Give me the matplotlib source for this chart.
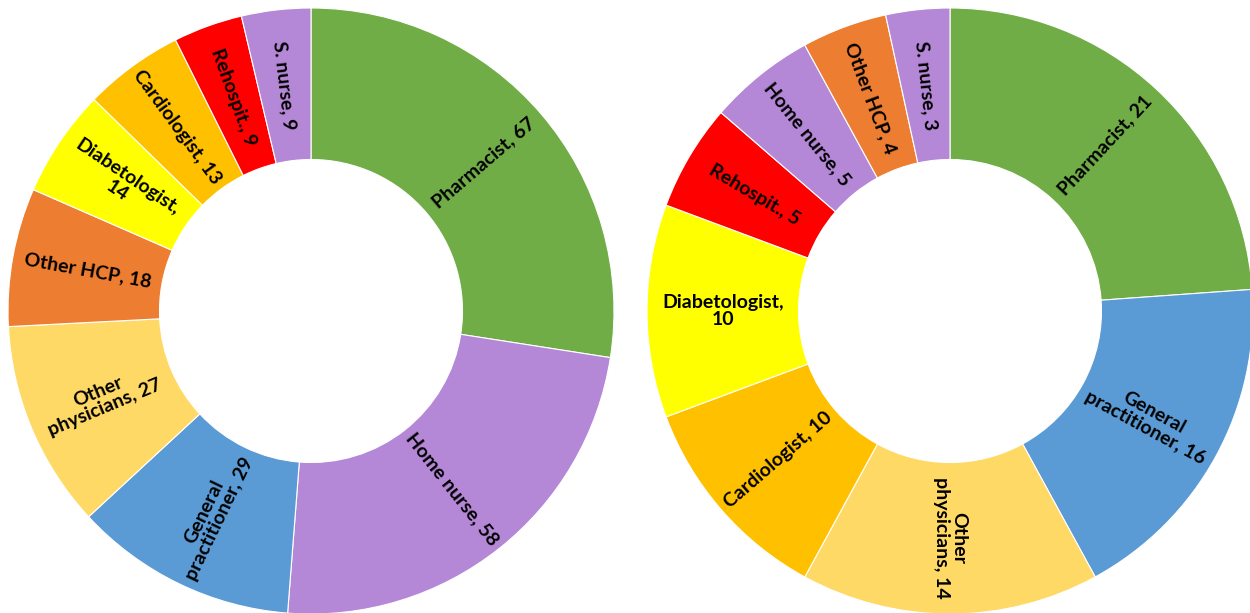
import numpy as np
import matplotlib
matplotlib.use("Agg")
import matplotlib.pyplot as plt

# ---- data ----
left_labels = ["Pharmacist, 67", "Home nurse, 58", "General\npractitioner, 29",
               "Other\nphysicians, 27", "Other HCP, 18", "Diabetologist,\n14",
               "Cardiologist, 13", "Rehospit., 9", "S. nurse, 9"]
left_values = [67, 58, 29, 27, 18, 14, 13, 9, 9]
left_colors = ["#70AD47", "#B587D7", "#5B9BD5", "#FFD966", "#ED7D31",
               "#FFFF00", "#FFC000", "#FF0000", "#B587D7"]

right_labels = ["Pharmacist, 21", "General\npractitioner, 16", "Other\nphysicians, 14",
                "Cardiologist, 10", "Diabetologist,\n10", "Rehospit., 5",
                "Home nurse, 5", "Other HCP, 4", "S. nurse, 3"]
right_values = [21, 16, 14, 10, 10, 5, 5, 4, 3]
right_colors = ["#70AD47", "#5B9BD5", "#FFD966", "#FFC000", "#FFFF00",
                "#FF0000", "#B587D7", "#ED7D31", "#B587D7"]

W, H = 1250, 613
fig = plt.figure(figsize=(W / 100, H / 100), dpi=100)
ax = fig.add_axes([0, 0, 1, 1])

R = 303
ring = 0.5 * R


def donut(values, labels, colors, center):
    ax.pie(values, colors=colors, startangle=90, counterclock=False,
           radius=R, center=center, frame=True,
           wedgeprops=dict(width=R - ring, edgecolor="white", linewidth=0.8))
    total = float(sum(values))
    cum = np.cumsum([0] + list(values))
    r_lab = (R + ring) / 2
    for i, lab in enumerate(labels):
        mid_cw = (cum[i] + cum[i + 1]) / 2 / total * 360.0
        ang = 90.0 - mid_cw  # math angle
        a = (ang + 180) % 360 - 180
        rot = a
        if a > 90:
            rot = a - 180
        elif a < -90:
            rot = a + 180
        x = center[0] + r_lab * np.cos(np.radians(ang))
        y = center[1] + r_lab * np.sin(np.radians(ang))
        ax.text(x, y, lab, rotation=rot, rotation_mode="anchor",
                ha="center", va="center", multialignment="center",
                fontsize=14, fontweight="bold", family="Lato",
                color="black", linespacing=1.0)


donut(left_values, left_labels, left_colors, (311, H - 311))
donut(right_values, right_labels, right_colors, (950, H - 311))
ax.set_xlim(0, W)
ax.set_ylim(0, H)
ax.set_aspect("equal")
ax.axis("off")

fig.savefig("out.png", dpi=100)
